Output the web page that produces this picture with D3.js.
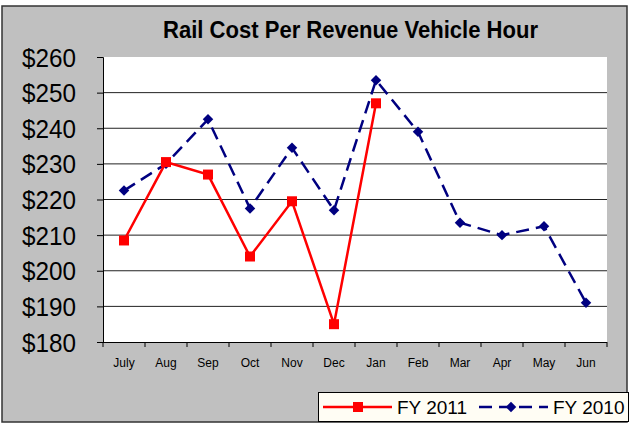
<!DOCTYPE html>
<html>
<head>
<meta charset="utf-8">
<script src="https://cdn.jsdelivr.net/npm/d3@7"></script>
<style>
  body { margin: 0; background: #fff; }
  text { font-family: Arial, "Liberation Sans", sans-serif; fill: #000; }
</style>
</head>
<body>
<svg id="chart"></svg>
<script>
// chart data
const months = ['July', 'Aug', 'Sep', 'Oct', 'Nov', 'Dec', 'Jan', 'Feb', 'Mar', 'Apr', 'May', 'Jun'];
const fy2011 = [208.5, 230.5, 227, 204, 219.5, 185, 247];
const fy2010 = [222.5, 230, 242.5, 217.5, 234.5, 217, 253.5, 239, 213.5, 210, 212.5, 191];
const yTicks = [180, 190, 200, 210, 220, 230, 240, 250, 260];

const width = 629, height = 425;
const margin = {top: 57, right: 22, bottom: 83, left: 103};

const svg = d3.select('#chart')
    .attr('width', width)
    .attr('height', height);

// gray frame
svg.append('rect')
    .attr('x', 2).attr('y', 6)
    .attr('width', 625).attr('height', 416)
    .attr('fill', '#c0c0c0')
    .attr('stroke', '#333')
    .attr('stroke-width', 1.5);

// title, the original font is a bit narrow so squeeze it
svg.append('text')
    .attr('x', 163)
    .attr('y', 38)
    .attr('textLength', 375)
    .attr('lengthAdjust', 'spacingAndGlyphs')
    .style('font-size', '23px')
    .style('font-weight', 'bold')
    .text('Rail Cost Per Revenue Vehicle Hour');

const innerW = width - margin.left - margin.right;
const innerH = height - margin.top - margin.bottom;

const chart = svg.append('g')
    .attr('transform', `translate(${margin.left},${margin.top})`);

chart.append('rect')
    .attr('width', innerW)
    .attr('height', innerH)
    .attr('fill', '#fff');

const xScale = d3.scaleBand()
    .domain(months)
    .range([0, innerW]);

const yScale = d3.scaleLinear()
    .domain([180, 260])
    .range([innerH, 0]);

// gridlines
chart.selectAll('.grid')
    .data(yTicks.filter(d => d > 180 && d < 260))
    .join('line')
    .attr('class', 'grid')
    .attr('x1', 0).attr('x2', innerW)
    .attr('y1', d => yScale(d)).attr('y2', d => yScale(d))
    .attr('stroke', '#222')
    .attr('stroke-width', 1);

// y axis
const yAxis = d3.axisLeft(yScale)
    .tickValues(yTicks)
    .tickSize(6)
    .tickPadding(21)
    .tickFormat(d => '$' + d);

chart.append('g')
    .call(yAxis)
    .call(g => g.select('.domain').attr('stroke', '#000').attr('d', `M-6,0.5H0.5V${innerH}`))
    .call(g => g.selectAll('line').attr('stroke', '#000'))
    .call(g => g.selectAll('text')
        .style('font-size', '26px')
        .style('font-family', 'Arial, "Liberation Sans", sans-serif')
        .attr('textLength', 54)
        .attr('lengthAdjust', 'spacingAndGlyphs')
        .attr('dy', '0.35em'));

// x axis: ticks at band edges, labels centred in bands
chart.append('line')
    .attr('x1', -6).attr('x2', innerW)
    .attr('y1', innerH + 0.5).attr('y2', innerH + 0.5)
    .attr('stroke', '#000');

chart.selectAll('.xtick')
    .data(months.concat(['end']))
    .join('line')
    .attr('class', 'xtick')
    .attr('x1', (d, i) => i * xScale.step())
    .attr('x2', (d, i) => i * xScale.step())
    .attr('y1', innerH)
    .attr('y2', innerH + 5)
    .attr('stroke', '#000');

chart.selectAll('.xlabel')
    .data(months)
    .join('text')
    .attr('class', 'xlabel')
    .attr('x', d => xScale(d) + xScale.bandwidth() / 2)
    .attr('y', innerH + 25)
    .attr('text-anchor', 'middle')
    .style('font-size', '12px')
    .text(d => d);

const xPos = (d, i) => xScale(months[i]) + xScale.bandwidth() / 2;

const line = d3.line()
    .x(xPos)
    .y(d => yScale(d));

// FY 2010 dashed navy
chart.append('path')
    .datum(fy2010)
    .attr('d', line)
    .attr('fill', 'none')
    .attr('stroke', '#000080')
    .attr('stroke-width', 2.5)
    .attr('stroke-dasharray', '13,7');

chart.selectAll('.pt2010')
    .data(fy2010)
    .join('path')
    .attr('class', 'pt2010')
    .attr('d', d3.symbol(d3.symbolDiamond2, 70))
    .attr('transform', (d, i) => `translate(${xPos(d, i)},${yScale(d)})`)
    .attr('fill', '#000080');

// FY 2011 solid red
chart.append('path')
    .datum(fy2011)
    .attr('d', line)
    .attr('fill', 'none')
    .attr('stroke', '#ff0000')
    .attr('stroke-width', 2.5);

chart.selectAll('.pt2011')
    .data(fy2011)
    .join('rect')
    .attr('class', 'pt2011')
    .attr('x', (d, i) => xPos(d, i) - 5)
    .attr('y', d => yScale(d) - 5)
    .attr('width', 10)
    .attr('height', 10)
    .attr('fill', '#ff0000');

// legend
const legend = svg.append('g');
legend.append('rect')
    .attr('x', 318.5).attr('y', 392.5)
    .attr('width', 310).attr('height', 29)
    .attr('fill', '#fffdf4')
    .attr('stroke', '#000');

legend.append('line')
    .attr('x1', 323).attr('x2', 392)
    .attr('y1', 407).attr('y2', 407)
    .attr('stroke', '#ff0000').attr('stroke-width', 2.5);
legend.append('rect')
    .attr('x', 353).attr('y', 402)
    .attr('width', 10).attr('height', 10)
    .attr('fill', '#ff0000');
legend.append('text')
    .attr('x', 397).attr('y', 414)
    .style('font-size', '19px')
    .text('FY 2011');

legend.append('line')
    .attr('x1', 479).attr('x2', 548)
    .attr('y1', 407).attr('y2', 407)
    .attr('stroke', '#000080').attr('stroke-width', 2.5)
    .attr('stroke-dasharray', '13,7');
legend.append('path')
    .attr('d', d3.symbol(d3.symbolDiamond2, 70))
    .attr('transform', 'translate(511,407)')
    .attr('fill', '#000080');
legend.append('text')
    .attr('x', 553).attr('y', 414)
    .style('font-size', '19px')
    .text('FY 2010');
</script>
</body>
</html>
